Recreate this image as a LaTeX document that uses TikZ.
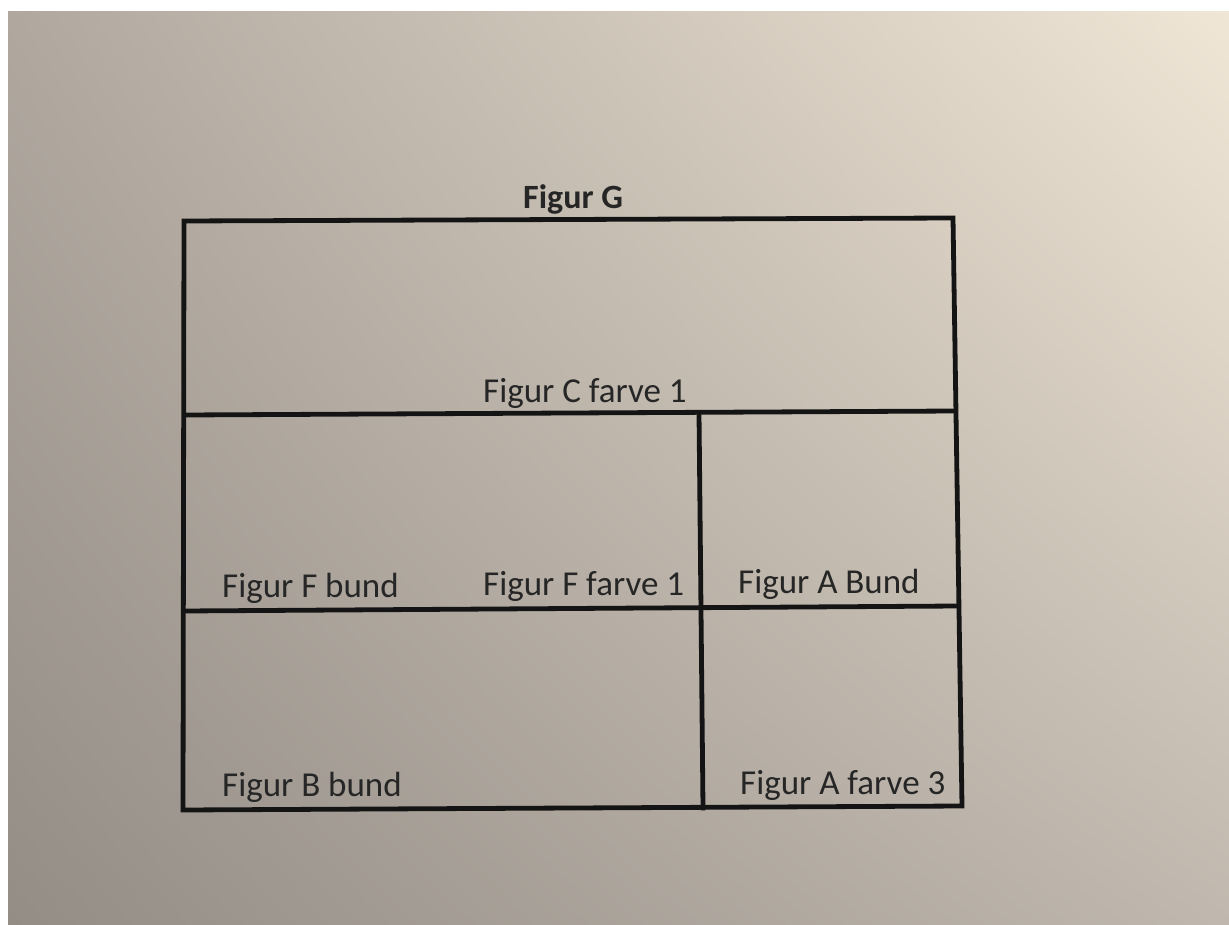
\documentclass[tikz,border=0pt]{standalone}
\usepackage{fontspec}
\setmainfont{Carlito}
\usetikzlibrary{shadings}
\definecolor{paperUL}{RGB}{176,168,159}
\definecolor{paperUR}{RGB}{240,230,214}
\definecolor{paperLL}{RGB}{148,141,134}
\definecolor{paperLR}{RGB}{192,184,174}
\begin{document}
\begin{tikzpicture}[x=1pt,y=-1pt,
  inkline/.style={line width=4.8pt,draw=black!92,line cap=rect,line join=miter},
  lab/.style={anchor=base west,inner sep=0pt,text=black!85,font=\fontsize{35}{41}\selectfont},
  title/.style={lab,font=\fontsize{34}{40}\selectfont\bfseries}]
\useasboundingbox (0,0) rectangle (1229,925);
\fill[white] (0,0) rectangle (1229,925);
\shade[upper left=paperUL, upper right=paperUR,
       lower left=paperLL, lower right=paperLR]
  (8,12) rectangle (1229,925);
% corners of the frame
\coordinate (TL) at (184,221);
\coordinate (TR) at (953,218);
\coordinate (BR) at (962,806);
\coordinate (BL) at (183,810);
\coordinate (L1) at (185,415);
\coordinate (R1) at (955,411);
\coordinate (L2) at (184,611);
\coordinate (R2) at (958,606);
\coordinate (V1) at (699,413);
\coordinate (V2) at (703,808);
\draw[inkline] (TL) -- (TR) -- (BR) -- (BL) -- cycle;
\draw[inkline] (L1) -- (R1);
\draw[inkline] (L2) -- (R2);
\draw[inkline] (V1) -- (V2);
% labels
\node[title] (g) at (523,209) {Figur G};
\node[lab] (c) at (483,402) {Figur C farve 1};
\node[lab] (fb) at (222,597) {Figur F bund};
\node[lab] (ff) at (483,595) {Figur F farve 1};
\node[lab] (ab) at (738,593) {Figur A Bund};
\node[lab] (bb) at (222,796) {Figur B bund};
\node[lab] (af) at (740,794) {Figur A farve 3};
\end{tikzpicture}
\end{document}
